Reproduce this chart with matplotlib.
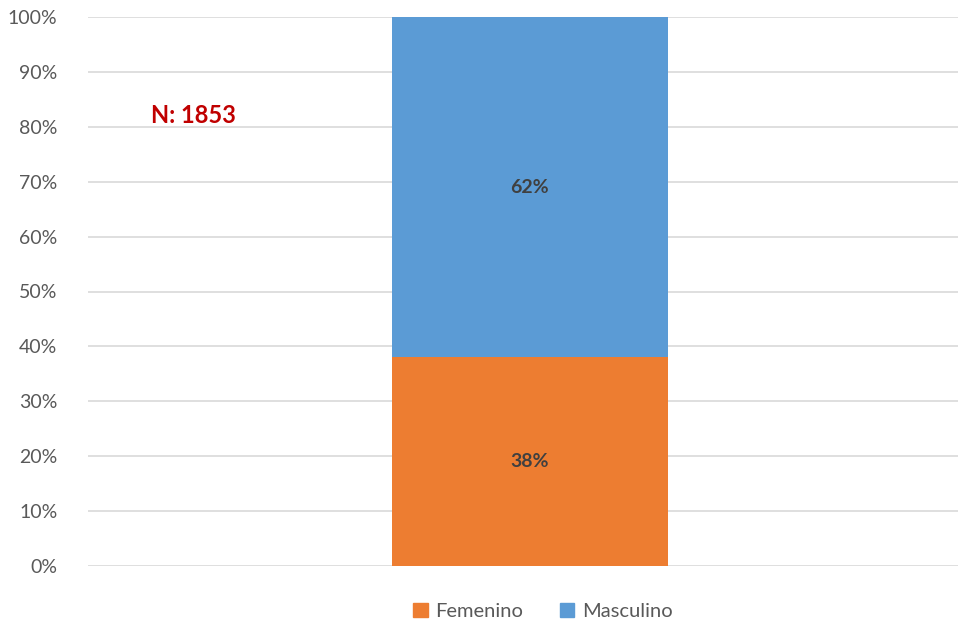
import numpy as np
import matplotlib.pyplot as plt
from matplotlib.patches import Patch

plt.rcParams['font.family'] = ['Lato', 'DejaVu Sans']

categories = ['Total']
series = ['Femenino', 'Masculino']
values = [38, 62]
colors = ['#ED7D31', '#5B9BD5']
yticks = [0, 10, 20, 30, 40, 50, 60, 70, 80, 90, 100]
n_label = 'N: 1853'

fig = plt.figure(figsize=(9.61, 6.25), dpi=100)
ax = fig.add_axes([0.0916, 0.0944, 0.905, 0.8784])

x = np.arange(len(categories))
bottom = np.zeros(len(categories))
for name, v, c in zip(series, values, colors):
    ax.bar(x, v, width=0.318, bottom=bottom, color=c, label=name, zorder=3)
    ax.text(x[0], bottom[0] + v / 2, f'{v}%', ha='center', va='center',
            fontsize=14, fontweight='bold', color='#404040', zorder=4)
    bottom += v

ax.set_xlim(-0.508, 0.492)
ax.set_ylim(0, 100)
ax.set_yticks(yticks)
ax.set_yticklabels([f'{t}%' for t in yticks], fontsize=14, color='#595959')
ax.set_xticks([])
ax.grid(axis='y', color='#D9D9D9', linewidth=1.2, zorder=0)
ax.tick_params(axis='y', length=0, pad=22)
for s in ax.spines.values():
    s.set_visible(False)

ax.text(-0.387, 82, n_label, ha='center', va='center', fontsize=17,
        fontweight='bold', color='#C00000')

handles = [Patch(color=c, label=s) for s, c in zip(series, colors)]
fig.legend(handles=handles, loc='center', bbox_to_anchor=(0.565, 0.022),
           ncol=2, frameon=False, fontsize=14.5, handlelength=0.7,
           handleheight=0.7, columnspacing=1.8, handletextpad=0.4,
           labelcolor='#595959')

fig.savefig('out.png', dpi=100)
